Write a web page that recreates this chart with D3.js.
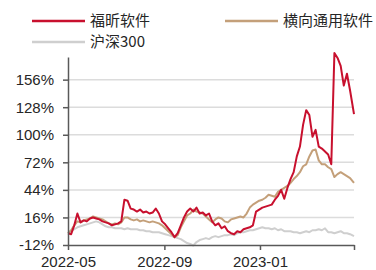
<!DOCTYPE html>
<html>
<head>
<meta charset="utf-8">
<script src="https://cdn.jsdelivr.net/npm/d3@7"></script>
<style>
  body { margin: 0; background: #fff; }
  svg text { font-family: "Liberation Sans", Arial, "Noto Sans CJK SC", sans-serif; fill: #262626; }
  .legend text { font-family: "Noto Sans CJK SC", sans-serif; }
</style>
</head>
<body>
<div id="chart"></div>
<script>
const dates = [
  '2022-05-01', '2022-05-05', '2022-05-09', '2022-05-13', '2022-05-17', '2022-05-21', '2022-05-25', '2022-05-29',
  '2022-06-02', '2022-06-06', '2022-06-10', '2022-06-14', '2022-06-18', '2022-06-22', '2022-06-26', '2022-06-30',
  '2022-07-04', '2022-07-08', '2022-07-12', '2022-07-16', '2022-07-20', '2022-07-24', '2022-07-28', '2022-08-01',
  '2022-08-05', '2022-08-09', '2022-08-13', '2022-08-17', '2022-08-21', '2022-08-25', '2022-08-29', '2022-09-02',
  '2022-09-06', '2022-09-10', '2022-09-14', '2022-09-18', '2022-09-22', '2022-09-26', '2022-09-30', '2022-10-04',
  '2022-10-08', '2022-10-12', '2022-10-16', '2022-10-20', '2022-10-24', '2022-10-28', '2022-11-01', '2022-11-05',
  '2022-11-09', '2022-11-13', '2022-11-17', '2022-11-21', '2022-11-25', '2022-11-29', '2022-12-03', '2022-12-07',
  '2022-12-11', '2022-12-15', '2022-12-19', '2022-12-23', '2022-12-27', '2022-12-31', '2023-01-04', '2023-01-08',
  '2023-01-12', '2023-01-16', '2023-01-20', '2023-01-24', '2023-01-28', '2023-02-01', '2023-02-05', '2023-02-09',
  '2023-02-13', '2023-02-17', '2023-02-21', '2023-02-25', '2023-03-01', '2023-03-05', '2023-03-09', '2023-03-13',
  '2023-03-17', '2023-03-21', '2023-03-25', '2023-03-29', '2023-04-02', '2023-04-06', '2023-04-10', '2023-04-14',
  '2023-04-18', '2023-04-22', '2023-04-26', '2023-05-01'
];

// 福昕软件
const foxit = [
  0, -1, 8, 20, 11, 13, 12, 15, 16, 15, 14, 12, 11, 10, 8, 9,
  10, 12, 34, 33, 25, 24, 22, 24, 21, 22, 20, 21, 25, 20, 12, 9,
  5, 1, -4, 0, 8, 16, 22, 25, 22, 26, 20, 21, 18, 20, 12, 8,
  10, 5, 7, 2, 0, -1, 2, 1, 4, 5, 6, 8, 22, 24, 26, 27,
  28, 29, 34, 38, 44, 35, 46, 55, 62, 78, 88, 110, 125, 120, 98, 105,
  88, 86, 83, 80, 70, 183, 178, 170, 150, 162, 145, 121
];

// 横向通用软件
const industry = [
  0, 3, 8, 12, 11, 13, 14, 15, 17, 16, 15, 14, 12, 10, 9, 10,
  9, 11, 16, 16, 14, 13, 14, 12, 13, 12, 11, 12, 11, 10, 8, 5,
  2, -1, -4, -2, 6, 12, 18, 20, 24, 22, 21, 20, 17, 14, 11, 14,
  16, 15, 12, 11, 14, 15, 16, 17, 16, 20, 26, 29, 31, 33, 34, 36,
  39, 38, 37, 42, 44, 46, 48, 51, 55, 58, 62, 68, 70, 78, 84, 85,
  74, 70, 70, 67, 65, 57, 60, 62, 60, 58, 56, 51
];

// 沪深300
const hs300 = [
  0, 2, 4, 6, 7, 8, 9, 10, 11, 12, 11, 9, 7, 6, 6, 5,
  5, 5, 4, 5, 4, 4, 4, 3, 3, 2, 2, 1, 1, 1, 0, -1,
  -2, -3, -4, -5, -6, -8, -10, -11, -12.5, -9, -7, -6, -5, -6, -4, -3,
  -4, -3, -2, -2, -1, -2, 0, 1, 1, 2, 3, 3, 4, 5, 6, 5,
  5, 4, 5, 3, 4, 2, 2, 2, 1, 1, 0, 1, 2, 1, 3, 3,
  4, 3, 5, 1, 1, 0, 1, 2, 0, 0, -1, -3
];

const yTicks = [-12, 16, 44, 72, 100, 128, 156];
const xTicks = ['2022-05-01', '2022-09-01', '2023-01-01', '2023-05-01'];
const xTickLabels = ['2022-05', '2022-09', '2023-01', ''];

const seriesNames = ['福昕软件', '横向通用软件', '沪深300'];
const seriesColors = ['#C8102E', '#C4A07A', '#CFCFCF'];

const WIDTH = 376;
const HEIGHT = 270;
const MARGIN = { top: 57, right: 22, bottom: 25, left: 68 };

const parse = d3.timeParse('%Y-%m-%d');
const dateValues = dates.map(parse);

const svg = d3
  .select('#chart')
  .append('svg')
  .attr('width', WIDTH)
  .attr('height', HEIGHT);

const x = d3
  .scaleTime()
  .domain([parse('2022-05-01'), parse('2023-05-01')])
  .range([MARGIN.left, WIDTH - MARGIN.right]);

const y = d3
  .scaleLinear()
  .domain([-12, 179])
  .range([HEIGHT - MARGIN.bottom, MARGIN.top]);

// gridlines
svg.append('g')
  .selectAll('line')
  .data(yTicks.slice(1))
  .join('line')
  .attr('x1', x.range()[0])
  .attr('x2', x.range()[1])
  .attr('y1', (d) => y(d))
  .attr('y2', (d) => y(d))
  .attr('stroke', '#DCDCDC')
  .attr('stroke-width', 1.5);

// series lines, drawn back to front
const line = d3
  .line()
  .x((d, i) => x(dateValues[i]))
  .y((d) => y(d));

const seriesData = [foxit, industry, hs300];
[2, 1, 0].forEach((k) => {
  svg.append('path')
    .datum(seriesData[k])
    .attr('fill', 'none')
    .attr('stroke', seriesColors[k])
    .attr('stroke-width', 2)
    .attr('stroke-linejoin', 'round')
    .attr('d', line);
});

// y axis
const yAxis = svg.append('g')
  .attr('transform', 'translate(' + MARGIN.left + ',0)')
  .call(d3.axisLeft(y).tickValues(yTicks).tickSize(5).tickPadding(9).tickSizeOuter(0)
    .tickFormat((d) => d + '%'));

// x axis
const xAxis = svg.append('g')
  .attr('transform', 'translate(0,' + (HEIGHT - MARGIN.bottom) + ')')
  .call(d3.axisBottom(x).tickValues(xTicks.map(parse)).tickSize(5).tickPadding(6).tickSizeOuter(0)
    .tickFormat((d, i) => xTickLabels[i]));

[yAxis, xAxis].forEach((ax) => {
  ax.selectAll('.domain, .tick line').attr('stroke', '#595959').attr('stroke-width', 1.5);
  ax.selectAll('text').style('font-size', '15px').attr('fill', '#262626');
});

// legend
const legendPos = [
  { x: 32, y: 21 },
  { x: 225, y: 21 },
  { x: 32, y: 42 }
];
const legend = svg.append('g').attr('class', 'legend');
seriesNames.forEach((name, k) => {
  const p = legendPos[k];
  legend.append('line')
    .attr('x1', p.x)
    .attr('x2', p.x + 53)
    .attr('y1', p.y)
    .attr('y2', p.y)
    .attr('stroke', seriesColors[k])
    .attr('stroke-width', 2.5);
  legend.append('text')
    .attr('x', p.x + 58)
    .attr('y', p.y + 5)
    .style('font-size', '15px')
    .text(name);
});
</script>
</body>
</html>
